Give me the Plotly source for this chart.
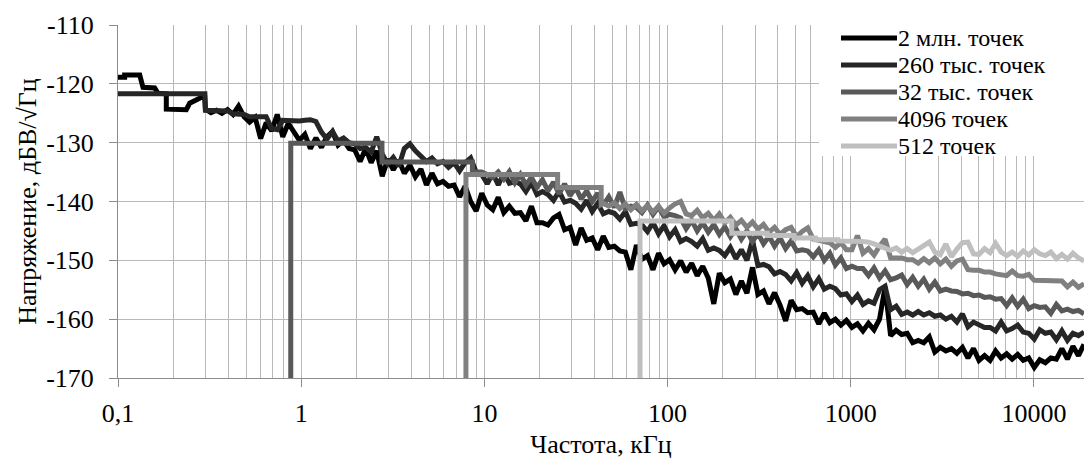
import numpy as np
import plotly.graph_objects as go

# ---------------- data ----------------
series_names = ["2 млн. точек", "260 тыс. точек", "32 тыс. точек", "4096 точек", "512 точек"]
series_colors = ["#000000", "#262626", "#595959", "#808080", "#bfbfbf"]

# common log-spaced sampling grid of the dense (high-resolution) part, kHz
GRID_START_KHZ = 0.3
GRID_STOP_KHZ = 18750
GRID_POINTS = 160

# low-frequency (step) parts: frequency, kHz / level, dB
f_2m_low = [0.1, 0.1087, 0.1087, 0.1314, 0.1369, 0.1586, 0.1653, 0.1835, 0.1835, 0.2359, 0.2462, 0.2733, 0.29, 0.297]
v_2m_low = [-118.9, -118.9, -118.5, -118.5, -120.6, -120.7, -121.6, -121.7, -124.3, -124.4, -123.3, -122.7, -122.2, -121.9]

f_260k_low = [0.1, 0.298]
v_260k_low = [-121.7, -121.7]

f_32k_low = [0.877, 0.877, 2.76, 2.76, 8.6, 8.6, 9.3]
v_32k_low = [-170, -130.1, -130.1, -133.3, -133.3, -135.0, -135.0]

f_4096_low = [7.93, 7.93, 25.1, 25.1, 43.4, 43.4]
v_4096_low = [-170, -135.4, -135.4, -137.6, -137.6, -140.5]

f_512_low = [70.7, 70.7, 224, 224, 350, 350, 490, 490, 640, 640, 850, 850, 1150]
v_512_low = [-170, -143.3, -143.3, -145.4, -145.4, -145.8, -145.8, -146.2, -146.2, -146.5, -146.5, -146.7, -146.8]

# dense parts (last N points of the common grid), dB
v_2m_dense = [
    -124.3, -124.9, -124.5, -125.0, -124.4, -125.2, -123.8, -125.6, -126.5, -125.7,
    -129.3, -126.6, -128.0, -125.2, -129.0, -126.7, -128.2, -129.6, -128.6, -131.0,
    -129.2, -130.8, -129.0, -128.1, -130.4, -129.6, -131.0, -131.2, -133.2, -131.0,
    -133.4, -131.4, -135.7, -132.8, -134.6, -133.0, -135.2, -133.8, -135.8, -134.5,
    -137.2, -135.2, -137.0, -136.6, -137.4, -137.2, -139.2, -137.4, -140.0, -141.6,
    -138.6, -140.6, -141.4, -139.3, -141.9, -140.8, -142.0, -141.9, -143.3, -140.8,
    -143.6, -143.6, -144.0, -142.8, -142.2, -144.8, -144.4, -147.4, -144.5, -146.6,
    -146.2, -148.2, -145.9, -147.8, -147.6, -148.4, -148.6, -151.6, -147.4, -149.8,
    -149.2, -151.6, -148.8, -150.6, -149.9, -151.6, -150.1, -152.0, -150.5, -152.6,
    -151.0, -153.0, -157.4, -152.2, -153.8, -153.2, -155.8, -153.5, -155.6, -151.2,
    -155.8, -155.2, -157.4, -155.5, -157.6, -160.3, -156.8, -158.4, -158.2, -158.9,
    -158.8, -160.8, -159.0, -160.6, -160.0, -161.0, -160.2, -161.4, -160.8, -162.0,
    -160.7, -161.8, -160.0, -154.5, -162.8, -161.9, -162.6, -162.4, -164.0, -163.6,
    -164.0, -163.0, -165.6, -164.8, -165.4, -165.0, -165.8, -164.8, -166.6, -165.0,
    -167.0, -166.2, -167.0, -165.4, -166.6, -165.9, -166.8, -166.0, -167.0, -166.6,
    -168.2, -166.9, -167.4, -166.6, -166.8, -165.0, -166.8, -164.6, -166.2, -164.3,
]
v_260k_dense = [
    -124.5, -124.5, -124.6, -124.5, -124.6, -125.1, -125.1, -125.2, -125.6, -125.6,
    -125.7, -125.6, -127.6, -127.8, -126.2, -126.3, -126.2, -126.3, -126.2, -126.1,
    -126.4, -128.2, -129.4, -128.1, -129.7, -129.2, -130.0, -130.2, -131.0, -130.8,
    -131.6, -129.0, -131.9, -133.6, -132.5, -134.0, -131.0, -130.2, -131.4, -132.2,
    -133.2, -132.6, -133.6, -133.2, -134.2, -133.4, -134.8, -133.4, -132.6, -135.0,
    -135.4, -137.0, -135.2, -137.2, -135.2, -136.9, -136.6, -137.0, -138.3, -136.8,
    -138.8, -138.3, -138.8, -139.8, -138.3, -140.1, -139.8, -140.3, -141.3, -139.8,
    -141.7, -140.3, -142.1, -141.7, -142.0, -143.0, -141.7, -143.9, -143.7, -144.0,
    -145.1, -143.6, -145.5, -144.1, -146.0, -144.8, -146.8, -146.3, -146.8, -147.6,
    -146.3, -148.3, -147.9, -148.3, -149.2, -147.8, -149.7, -148.2, -150.0, -146.6,
    -150.9, -150.7, -151.1, -152.3, -151.9, -152.4, -153.5, -152.1, -153.9, -152.6,
    -154.5, -153.1, -154.9, -154.4, -154.8, -155.9, -155.7, -157.0, -155.9, -157.5,
    -156.9, -157.3, -155.0, -154.4, -158.4, -157.8, -159.2, -158.8, -159.3, -158.7,
    -159.3, -158.9, -159.5, -159.3, -160.0, -159.5, -160.5, -159.1, -161.3, -160.5,
    -161.0, -161.4, -161.4, -162.0, -160.5, -162.0, -161.6, -161.0, -162.2, -162.4,
    -163.4, -161.8, -162.4, -162.2, -163.5, -162.0, -163.6, -162.4, -162.8, -162.2,
]
v_32k_dense = [
    -135.0, -135.4, -135.9, -135.0, -136.2, -134.9, -136.8, -135.4, -137.2, -135.9,
    -137.6, -136.3, -138.2, -136.7, -138.7, -137.0, -139.0, -137.6, -139.6, -138.2,
    -140.0, -138.6, -140.6, -139.2, -141.0, -138.4, -141.2, -140.8, -141.0, -141.9,
    -140.6, -142.2, -140.9, -142.6, -142.2, -142.4, -142.8, -144.6, -143.2, -145.0,
    -143.6, -145.2, -143.9, -145.6, -144.3, -146.0, -144.6, -146.4, -145.0, -146.8,
    -145.4, -147.2, -145.9, -147.6, -146.2, -148.0, -146.7, -148.4, -148.2, -148.4,
    -149.4, -148.2, -150.0, -148.8, -150.8, -149.6, -151.4, -151.0, -151.4, -151.4,
    -152.6, -151.3, -153.0, -151.8, -153.3, -153.0, -152.5, -154.1, -152.9, -154.4,
    -153.2, -154.9, -153.7, -155.2, -154.9, -155.2, -155.3, -155.7, -155.6, -156.0,
    -155.9, -156.3, -156.2, -156.6, -156.5, -157.7, -156.4, -157.8, -156.6, -158.2,
    -157.7, -158.0, -157.9, -159.0, -157.5, -158.6, -158.3, -158.7, -158.5, -159.1,
]
v_4096_dense = [
    -140.3, -140.8, -140.2, -141.2, -140.4, -141.4, -140.5, -141.6,
    -140.7, -141.8, -140.8, -142.0, -141.1, -140.4, -140.0, -142.1, -142.4, -141.5,
    -142.8, -142.0, -143.2, -142.1, -143.6, -142.7, -144.0, -143.2, -144.4, -143.5,
    -144.7, -143.9, -145.2, -144.4, -145.6, -144.8, -144.4, -146.0, -145.1, -144.5,
    -146.4, -146.6, -146.6, -147.0, -147.8, -147.0, -148.2, -148.2, -145.8, -148.8,
    -148.0, -149.1, -147.6, -146.4, -149.6, -149.6, -149.6, -149.9, -149.9, -150.5,
    -149.7, -150.4, -149.6, -150.6, -149.8, -151.0, -150.1, -149.8, -151.6, -151.7,
    -151.7, -152.0, -152.0, -152.3, -152.4, -152.6, -151.8, -152.6, -152.7, -152.4,
    -153.4, -153.4, -153.5, -153.6, -153.6, -153.5, -154.5, -153.7, -154.6, -154.0,
]
v_512_dense = [
    -146.9, -147.2, -147.6, -148.0, -148.3, -147.9, -148.6, -148.0, -148.7, -148.1,
    -147.6, -146.9, -148.6, -149.0, -147.2, -149.4, -148.1, -147.0, -146.9, -148.9,
    -149.0, -148.0, -148.7, -147.1, -148.6, -149.2, -148.6, -149.3, -148.4, -149.1,
    -148.2, -148.9, -149.2, -148.6, -149.7, -149.0, -149.8, -148.8, -149.6, -150.1,
]

x_tick_vals = [0.1, 1, 10, 100, 1000, 10000]
x_tick_text = ["0,1", "1", "10", "100", "1000", "10000"]
y_tick_vals = [-170, -160, -150, -140, -130, -120, -110]
y_tick_text = ["-170", "-160", "-150", "-140", "-130", "-120", "-110"]
x_title = "Частота, кГц"
y_title = "Напряжение, дБВ/√Гц"

# ---------------- figure ----------------
grid = np.geomspace(GRID_START_KHZ, GRID_STOP_KHZ, GRID_POINTS)

def build(f_low, v_low, v_dense):
    n = len(v_dense)
    return list(f_low) + list(grid[GRID_POINTS - n:]), list(v_low) + list(v_dense)

parts = [
    (f_2m_low, v_2m_low, v_2m_dense),
    (f_260k_low, v_260k_low, v_260k_dense),
    (f_32k_low, v_32k_low, v_32k_dense),
    (f_4096_low, v_4096_low, v_4096_dense),
    (f_512_low, v_512_low, v_512_dense),
]

LINE_W = 5
fig = go.Figure()
for name, color, (fl, vl, vd) in zip(series_names, series_colors, parts):
    xs, ys = build(fl, vl, vd)
    fig.add_trace(go.Scatter(x=xs, y=ys, mode="lines", name=name, showlegend=False,
                             line=dict(color=color, width=LINE_W)))

minor_vals = [m * d for d in [0.1, 1, 10, 100, 1000] for m in range(2, 10)]
grid_col = "#b9b9b9"
axis_col = "#8c8c8c"
font_family = "Liberation Serif"
FS = 26
LEG_FS = 24

# legend drawn inside the plot (white box, line samples and labels), paper coords
ML, MT, MB, W, H = 118, 25, 81, 1084, 459
PW, PH = W - ML, H - MT - MB
def px_x(p):
    return (p - ML) / PW
def px_y(p):
    return (H - MB - p) / PH

shapes = [dict(type="rect", xref="paper", yref="paper", layer="above",
               x0=px_x(819), x1=1.0, y0=px_y(156), y1=px_y(18),
               fillcolor="white", line=dict(width=0))]
annotations = []
ROW0, ROW_STEP = 38, 27
for k, (name, color) in enumerate(zip(series_names, series_colors)):
    yc = px_y(ROW0 + k * ROW_STEP)
    shapes.append(dict(type="line", xref="paper", yref="paper", layer="above",
                       x0=px_x(841), x1=px_x(897), y0=yc, y1=yc,
                       line=dict(color=color, width=LINE_W)))
    annotations.append(dict(xref="paper", yref="paper", x=px_x(896), y=yc,
                            xanchor="left", yanchor="middle", showarrow=False,
                            text=name, font=dict(family=font_family, size=LEG_FS, color="black")))

fig.update_layout(
    width=W, height=H,
    margin=dict(l=ML, r=0, t=MT, b=MB, autoexpand=False),
    paper_bgcolor="white", plot_bgcolor="white",
    font=dict(family=font_family, size=FS, color="black"),
    showlegend=False,
    shapes=shapes, annotations=annotations,
)
fig.update_xaxes(
    type="log", range=[-1, np.log10(GRID_STOP_KHZ)], automargin=False,
    tickvals=x_tick_vals, ticktext=x_tick_text,
    ticks="outside", ticklen=8, tickcolor=axis_col, tickwidth=1,
    showline=True, linecolor=axis_col, linewidth=1,
    showgrid=True, gridcolor=grid_col, gridwidth=1, zeroline=False,
    minor=dict(tickvals=minor_vals, showgrid=True, gridcolor=grid_col, gridwidth=1, ticks=""),
    ticklabelstandoff=4,
    tickfont=dict(family=font_family, size=FS),
    title=dict(text=x_title, standoff=17, font=dict(family=font_family, size=FS)),
)
fig.update_yaxes(
    range=[-170, -110], automargin=False,
    tickvals=y_tick_vals, ticktext=y_tick_text,
    ticks="outside", ticklen=8, tickcolor=axis_col, tickwidth=1,
    showline=True, linecolor=axis_col, linewidth=1,
    showgrid=True, gridcolor=grid_col, gridwidth=1, zeroline=False,
    ticklabelstandoff=10,
    tickfont=dict(family=font_family, size=FS),
    title=dict(text=y_title, standoff=2, font=dict(family=font_family, size=FS)),
)

fig.write_html("out.html")
